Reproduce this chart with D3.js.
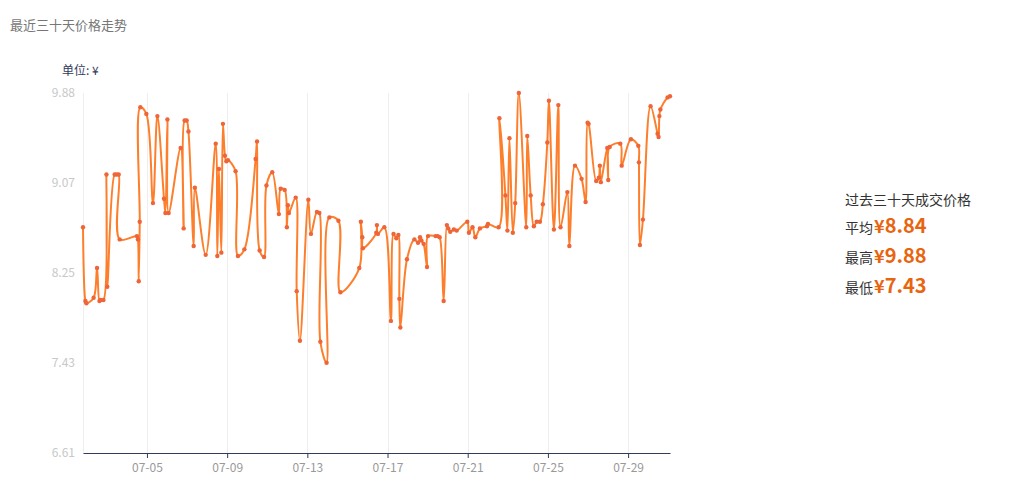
<!DOCTYPE html>
<html><head><meta charset="utf-8">
<script src="https://cdn.jsdelivr.net/npm/d3@7/dist/d3.min.js"></script>
<style>
html,body{margin:0;padding:0;background:#fff;}
svg{display:block;font-family:"Noto Sans CJK SC","Noto Sans",sans-serif;}
</style></head>
<body>
<svg id="chart" width="1014" height="499"></svg>
<script>
// Day of July (fractional) for each transaction
const days = [1.81,1.93,1.98,2.34,2.51,2.63,2.69,2.83,2.98,3.02,3.39,3.49,3.59,3.64,4.50,4.55,4.59,4.64,4.67,4.97,
5.30,5.52,5.85,5.92,6.02,6.08,6.68,6.83,6.88,6.98,7.07,7.33,7.39,7.93,8.43,8.51,8.59,8.71,8.79,8.89,
8.96,9.04,9.42,9.54,9.86,10.42,10.49,10.62,10.84,10.96,11.25,11.58,11.67,11.87,11.98,12.03,12.08,12.42,12.47,12.63,
13.05,13.18,13.48,13.60,13.65,13.96,14.10,14.55,14.65,15.59,15.67,15.74,15.77,16.44,16.47,16.52,16.84,17.17,17.30,17.44,
17.54,17.59,17.64,17.97,18.34,18.52,18.62,18.69,18.80,18.97,19.02,19.40,19.50,19.60,19.80,19.96,20.03,20.13,20.31,20.45,
20.98,21.06,21.24,21.38,21.61,21.96,22.01,22.54,22.58,22.88,22.98,23.08,23.25,23.37,23.55,23.92,23.97,24.14,24.30,24.44,
24.60,24.75,24.97,25.05,25.30,25.52,25.63,25.97,26.07,26.35,26.68,26.88,26.98,27.03,27.41,27.54,27.59,27.64,27.96,28.01,
28.08,28.61,28.68,29.14,29.51,29.54,29.59,29.74,30.12,30.47,30.52,30.56,30.61,30.97,31.09];
// Price for each transaction (¥)
const prices = [8.66,7.99,7.97,8.02,8.29,7.99,8.00,8.00,9.14,8.12,9.14,9.14,9.14,8.55,8.58,8.55,8.17,8.71,9.75,9.69,
8.88,9.67,8.92,8.79,9.64,8.79,9.38,8.65,9.63,9.63,9.53,8.49,9.02,8.41,9.42,8.40,9.19,8.43,9.60,9.31,
9.26,9.27,9.17,8.40,8.46,9.28,9.44,8.45,8.39,9.04,9.16,8.78,9.01,9.00,8.66,8.86,8.79,8.93,8.08,7.63,
8.91,8.60,8.80,8.79,7.62,7.43,8.75,8.72,8.07,8.29,8.71,8.57,8.47,8.61,8.68,8.60,8.66,7.81,8.60,8.56,
8.59,8.01,7.75,8.37,8.55,8.52,8.57,8.54,8.51,8.30,8.58,8.58,8.58,8.57,7.99,8.68,8.65,8.62,8.64,8.63,
8.71,8.61,8.66,8.57,8.65,8.67,8.69,8.66,9.65,8.95,8.63,9.47,8.61,8.88,9.88,8.66,9.49,8.95,8.67,8.71,
8.71,8.87,9.43,9.81,8.64,9.77,8.66,8.98,8.49,9.22,9.10,8.89,9.61,9.60,9.08,9.11,9.22,9.07,9.38,9.09,
9.39,9.42,9.22,9.46,9.40,9.25,8.50,8.73,9.76,9.51,9.48,9.67,9.73,9.84,9.85];
const yTickLabels = ["6.61","7.43","8.25","9.07","9.88"];
const xTickDays = [5,9,13,17,21,25,29];
const titleText = "最近三十天价格走势";
const unitText = "单位: ¥";
const summaryTitle = "过去三十天成交价格";
const summaryLabels = ["平均","最高","最低"];
const summaryValues = ["8.84","9.88","7.43"];

const toDate = d => new Date(new Date(2024,6,1).getTime() + (d-1)*864e5);
const data = days.map((d,i)=>({t:toDate(d), v:prices[i]}));

const svg = d3.select("#chart");
const pL=83, pR=670, pT=93, pB=453;
const x = d3.scaleTime().domain(d3.extent(data,d=>d.t)).range([pL,pR]);
const yMin=+yTickLabels[0], yMax=+yTickLabels[yTickLabels.length-1];
const y = d3.scaleLinear().domain([yMin,yMax]).range([pB,pT]);
const yTicks = yTickLabels.map((_,i)=>yMin+i*(yMax-yMin)/(yTickLabels.length-1));
const xTicks = xTickDays.map(toDate);

// title
svg.append("text").attr("x",10).attr("y",30).attr("font-size",13).attr("fill","#777").text(titleText);
svg.append("text").attr("x",62).attr("y",75).attr("font-size",12).attr("fill","#333a5c").text(unitText);

// vertical split lines
svg.append("g").selectAll("line").data(xTicks).join("line")
  .attr("x1",d=>Math.round(x(d))+0.5).attr("x2",d=>Math.round(x(d))+0.5).attr("y1",pT).attr("y2",pB)
  .attr("stroke","#eeeeee").attr("stroke-width",1);
svg.append("line").attr("x1",pL+0.5).attr("x2",pL+0.5).attr("y1",pT).attr("y2",pB)
  .attr("stroke","#eeeeee");

// y axis labels
svg.append("g").selectAll("text").data(yTicks).join("text")
  .attr("x",75).attr("y",d=>y(d)).attr("dy","0.35em").attr("text-anchor","end")
  .attr("font-size",12).attr("fill","#c8c8c8").text((d,i)=>yTickLabels[i]);

// x axis
const xAxis = d3.axisBottom(x).tickValues(xTicks).tickFormat(d3.timeFormat("%m-%d")).tickSize(5).tickSizeOuter(0);
const gx = svg.append("g").attr("transform",`translate(0,${pB})`).call(xAxis);
gx.select(".domain").attr("stroke","#333a5c");
gx.selectAll(".tick line").attr("stroke","#333a5c");
gx.selectAll(".tick text").attr("fill","#999").attr("font-size",12).attr("dy","0.9em")
  .attr("font-family","'Noto Sans CJK SC','Noto Sans',sans-serif");

// line
const line = d3.line().x(d=>x(d.t)).y(d=>y(d.v)).curve(d3.curveCatmullRom.alpha(0.5));
svg.append("path").datum(data).attr("d",line).attr("fill","none")
  .attr("stroke","#fd7f2c").attr("stroke-width",2).attr("stroke-linejoin","round");
svg.append("g").selectAll("circle").data(data).join("circle")
  .attr("cx",d=>x(d.t)).attr("cy",d=>y(d.v)).attr("r",2.2).attr("fill","#ee6538");

// summary panel
svg.append("text").attr("x",845).attr("y",205).attr("font-size",14).attr("fill","#333").text(summaryTitle);
summaryLabels.forEach((lab,i)=>{
  const cy = 227+i*30;
  const t = svg.append("text").attr("x",845).attr("y",cy).attr("dy","0.35em");
  t.append("tspan").attr("font-size",14).attr("fill","#333").text(lab);
  t.append("tspan").attr("font-size",18).attr("font-weight","bold").attr("fill","#e8650f").attr("dx",1).text("¥");
  t.append("tspan").attr("font-size",20).attr("font-weight","bold").attr("fill","#e8650f").text(summaryValues[i]);
});
</script>
</body></html>
